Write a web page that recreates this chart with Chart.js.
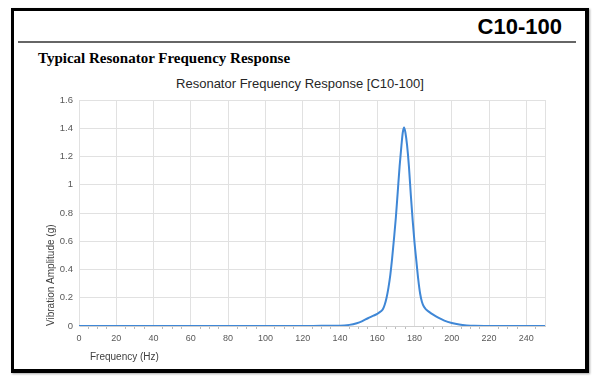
<!DOCTYPE html>
<html>
<head>
<meta charset="utf-8">
<script src="https://cdn.jsdelivr.net/npm/chart.js@4/dist/chart.umd.min.js"></script>
<style>
  html, body { margin: 0; padding: 0; background: #fff; }
  #wrap { position: relative; width: 600px; height: 380px; overflow: hidden; background: #fff; }
  #frame { position: absolute; left: 11px; top: 8px; width: 571px; height: 358px;
           border-style: solid; border-color: #000; border-width: 3px 4px 4px 3px;
           box-shadow: 1px 1px 2px rgba(0,0,0,0.35); }
  #rule { position: absolute; left: 18px; top: 41px; width: 558px; height: 2px; background: #666; }
  #model { position: absolute; right: 38px; top: 16px; font: bold 22px "Liberation Sans", Arial, sans-serif;
           line-height: 22px; color: #000; white-space: nowrap; }
  #sub { position: absolute; left: 38px; top: 51px; font: bold 15px "Liberation Serif", "Times New Roman", serif;
         line-height: 15px; color: #000; white-space: nowrap; }
  #ctitle { position: absolute; left: 0; width: 600px; text-align: center; top: 77px;
            font: 13px "Liberation Sans", Arial, sans-serif; line-height: 13px; color: #262626; white-space: nowrap; }
  #c { position: absolute; left: 0; top: 0; }
</style>
</head>
<body>
<div id="wrap">
  <div id="frame"></div>
  <div id="rule"></div>
  <div id="model">C10-100</div>
  <div id="sub">Typical Resonator Frequency Response</div>
  <div id="ctitle">Resonator Frequency Response [C10-100]</div>
  <canvas id="c" width="600" height="380"></canvas>
</div>
<script>
// Frequency (Hz) sample points
const frequencies = [0, 10, 20, 30, 40, 50, 60, 70, 80, 90, 100, 110, 120, 130, 140, 145, 149, 152, 155, 158, 160, 162, 163, 164, 165, 166, 167, 168, 169, 170, 171, 172, 173, 173.7, 174.4, 175.1, 176, 177, 178, 179, 180, 181, 182, 183, 184, 185, 186, 188, 190, 193, 196, 200, 204, 208, 212, 220, 230, 240, 250];
// Vibration amplitude (g) at each frequency
const amplitudes  = [0, 0, 0, 0, 0, 0, 0, 0, 0, 0, 0, 0, 0, 0.001, 0.002, 0.008, 0.02, 0.035, 0.055, 0.073, 0.086, 0.104, 0.118, 0.15, 0.2, 0.27, 0.36, 0.48, 0.62, 0.77, 0.95, 1.13, 1.28, 1.37, 1.405, 1.37, 1.28, 1.13, 0.93, 0.75, 0.59, 0.46, 0.33, 0.23, 0.17, 0.138, 0.12, 0.098, 0.08, 0.057, 0.038, 0.021, 0.01, 0.004, 0.001, 0, 0, 0, 0];
const xTickLabels = ['0', '20', '40', '60', '80', '100', '120', '140', '160', '180', '200', '220', '240'];
const yTickLabels = ['0', '0.2', '0.4', '0.6', '0.8', '1', '1.2', '1.4', '1.6'];
const seriesName = 'Resonator Frequency Response [C10-100]';
const xTitle = 'Frequency (Hz)';
const yTitle = 'Vibration Amplitude (g)';

const points = frequencies.map((f, i) => ({ x: f, y: amplitudes[i] }));
const FONT = '"Liberation Sans", Arial, sans-serif';

const xTitlePlugin = {
  id: 'xTitle',
  afterDraw(chart) {
    const ctx = chart.ctx;
    ctx.save();
    ctx.font = '10px ' + FONT;
    ctx.fillStyle = '#404040';
    ctx.textAlign = 'left';
    ctx.textBaseline = 'middle';
    ctx.fillText(xTitle, chart.chartArea.left + 11, 357);
    ctx.restore();
  }
};

new Chart(document.getElementById('c'), {
  type: 'line',
  data: {
    datasets: [{
      label: seriesName,
      data: points,
      borderColor: '#3f87d6',
      borderWidth: 2,
      pointRadius: 0,
      fill: false,
      cubicInterpolationMode: 'monotone'
    }]
  },
  options: {
    responsive: false,
    animation: false,
    devicePixelRatio: 1,
    layout: { padding: { left: 41, right: 55, top: 100, bottom: 14 } },
    plugins: { legend: { display: false }, title: { display: false }, tooltip: { enabled: false } },
    scales: {
      x: {
        type: 'linear',
        min: 0, max: 250,
        afterFit(scale) { scale.height = 40; },
        ticks: {
          stepSize: 5,
          autoSkip: false,
          maxRotation: 0,
          padding: 4,
          color: '#595959',
          font: { family: FONT, size: 9 },
          callback(v) {
            const i = xTickLabels.indexOf(String(v));
            return (v % 20 === 0 && i >= 0) ? xTickLabels[i] : '';
          }
        },
        grid: {
          color(ctx) {
            const v = ctx.tick ? ctx.tick.value : 0;
            return (v % 20 === 0 || v === 250) ? '#e1e1e1' : 'rgba(0,0,0,0)';
          },
          tickColor(ctx) {
            const v = ctx.tick ? ctx.tick.value : 0;
            return (v % 20 === 0 || v === 250) ? 'rgba(0,0,0,0)' : '#bdbdbd';
          },
          tickLength: 3,
          lineWidth: 1
        },
        border: { display: true, color: '#d0d0d0' }
      },
      y: {
        min: 0, max: 1.6,
        afterFit(scale) { scale.width = 38; },
        ticks: {
          stepSize: 0.2,
          padding: 6,
          color: '#595959',
          font: { family: FONT, size: 9.5 },
          callback(v, i) { return yTickLabels[i] !== undefined ? yTickLabels[i] : ''; }
        },
        grid: { color: '#e1e1e1', drawTicks: false, lineWidth: 1 },
        border: { display: true, color: '#e1e1e1' },
        title: {
          display: true,
          text: yTitle,
          align: 'start',
          color: '#404040',
          font: { family: FONT, size: 10 },
          padding: { top: 4, bottom: 0 }
        }
      }
    }
  },
  plugins: [xTitlePlugin]
});
</script>
</body>
</html>
